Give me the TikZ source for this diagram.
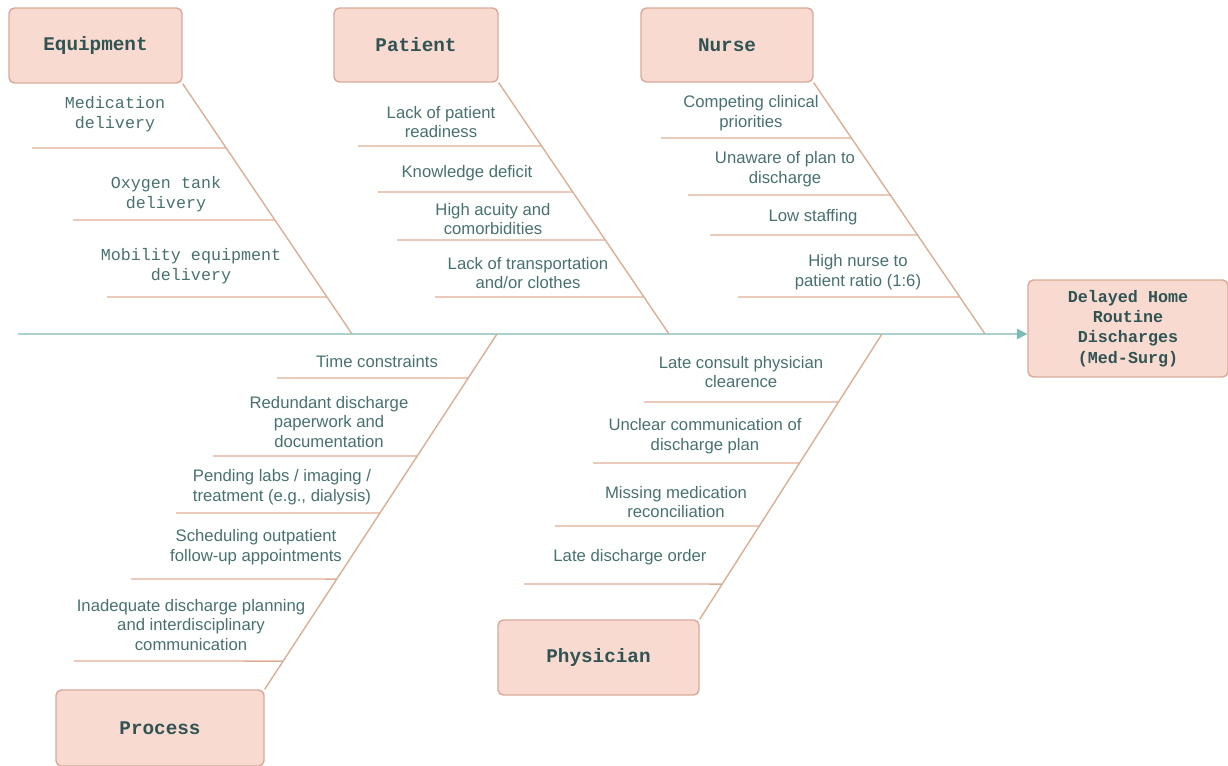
\documentclass[tikz,border=0pt]{standalone}
\usepackage{fontspec}
\setmainfont{Liberation Sans}
\newfontfamily\monofont{Liberation Mono}
\usetikzlibrary{arrows.meta}

\definecolor{boxfill}{HTML}{F9DAD0}
\definecolor{boxline}{HTML}{D8A999}
\definecolor{bonecol}{HTML}{DDAE96}
\definecolor{spinecol}{HTML}{A9D1CF}
\definecolor{tipcol}{HTML}{7DB9B6}
\definecolor{ink}{HTML}{46716F}
\definecolor{inkdark}{HTML}{2F5453}

\tikzset{
  cat/.style={draw=boxline,fill=boxfill,rounded corners=3pt,line width=0.8pt,
    text=inkdark,inner sep=0pt,align=center,
    font=\monofont\bfseries\fontsize{11}{13}\selectfont},
  cause/.style={text=ink,inner sep=0pt,align=center,
    font=\fontsize{9.5}{11.3}\selectfont},
  mcause/.style={cause,font=\monofont\fontsize{9.5}{11.3}\selectfont},
  bone/.style={draw=bonecol,line width=0.8pt},
  rib/.style={draw=bonecol,line width=0.8pt},
}

\begin{document}
\begin{tikzpicture}[x=0.02cm,y=-0.02cm]
  \useasboundingbox (0,0) rectangle (1228,766);

  % category boxes and the effect
  \node[cat,minimum width=3.46cm,minimum height=1.5cm] (equip) at (95.5,45.5) {Equipment};
  \node[cat,minimum width=3.28cm,minimum height=1.48cm] (patient) at (416,45) {Patient};
  \node[cat,minimum width=3.44cm,minimum height=1.48cm] (nurse) at (727,45) {Nurse};
  \node[cat,minimum width=4.16cm,minimum height=1.52cm] (process) at (160,728) {Process};
  \node[cat,minimum width=4.02cm,minimum height=1.5cm] (physician) at (598.5,657.5) {Physician};
  \node[cat,minimum width=4.0cm,minimum height=1.94cm,font=\monofont\bfseries\fontsize{9.5}{11.6}\selectfont]
    (effect) at (1128,328.5) {Delayed Home\\Routine\\Discharges\\(Med-Surg)};

  % spine
  \coordinate (tail) at (18,334);
  \draw[draw=spinecol,line width=0.8pt,-{Triangle[length=6pt,width=6pt,color=tipcol]}]
    (tail) -- (effect.west |- tail);

  % bones meet the spine here
  \coordinate (e0) at (352,334);
  \coordinate (p0) at (669,334);
  \coordinate (n0) at (985,334);
  \coordinate (r0) at (497,334);
  \coordinate (h0) at (882,334);
  \draw[bone] (equip.south east) -- (e0);
  \draw[bone] (patient.south east) -- (p0);
  \draw[bone] (nurse.south east) -- (n0);
  \draw[bone] (process.north east) -- (r0);
  \draw[bone] (physician.north east) -- (h0);

  % ribs, each one runs up to its bone
  \foreach \x/\y in {32/148,73/220,107/297}
    \draw[rib] (\x,\y) -- (intersection of equip.south east--e0 and 0,\y--1228,\y);
  \foreach \x/\y in {358/146,378/192,397/240,435/297}
    \draw[rib] (\x,\y) -- (intersection of patient.south east--p0 and 0,\y--1228,\y);
  \foreach \x/\y in {661/138,688/195,710/235,738/297}
    \draw[rib] (\x,\y) -- (intersection of nurse.south east--n0 and 0,\y--1228,\y);
  \foreach \x/\y in {277/378,213/456,176/513,131/579,74/661}
    \draw[rib] (\x,\y) -- (intersection of process.north east--r0 and 0,\y--1228,\y);
  \foreach \x/\y in {644/402,593/463,555/526,524/584}
    \draw[rib] (\x,\y) -- (intersection of physician.north east--h0 and 0,\y--1228,\y);

  % causes
  \node[mcause] (e1) at (115,114) {Medication\\delivery};
  \node[mcause] (e2) at (166,194) {Oxygen tank\\delivery};
  \node[mcause] (e3) at (191,266) {Mobility equipment\\delivery};

  \node[cause] (p1) at (441,122) {Lack of patient\\readiness};
  \node[cause] (p2) at (467,173) {Knowledge deficit};
  \node[cause] (p3) at (493,219) {High acuity and\\comorbidities};
  \node[cause] (p4) at (528,273) {Lack of transportation\\and/or clothes};

  \node[cause] (n1) at (751,113) {Competing clinical\\priorities};
  \node[cause] (n2) at (785,169) {Unaware of plan to\\discharge};
  \node[cause] (n3) at (813,217) {Low staffing};
  \node[cause] (n4) at (858,272) {High nurse to\\patient ratio (1:6)};

  \node[cause] (r1) at (377,362) {Time constraints};
  \node[cause] (r2) at (329,422) {Redundant discharge\\paperwork and\\documentation};
  \node[cause] (r3) at (282,487) {Pending labs / imaging /\\treatment (e.g., dialysis)};
  \node[cause] (r4) at (256,547) {Scheduling outpatient\\follow-up appointments};
  \node[cause] (r5) at (191,625) {Inadequate discharge planning\\and interdisciplinary\\communication};

  \node[cause] (h1) at (741,372) {Late consult physician\\clearence};
  \node[cause] (h2) at (705,436) {Unclear communication of\\discharge plan};
  \node[cause] (h3) at (676,502) {Missing medication\\reconciliation};
  \node[cause] (h4) at (630,557) {Late discharge order};
\end{tikzpicture}
\end{document}
